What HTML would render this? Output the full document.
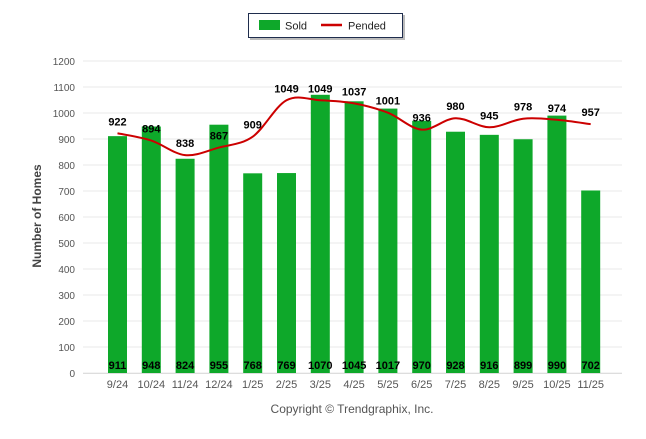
<!DOCTYPE html>
<html><head><meta charset="utf-8"><style>
body{margin:0;background:#fff;width:646px;height:434px;overflow:hidden;font-family:"Liberation Sans",sans-serif}
</style></head><body>
<svg id="c" width="646" height="434" xmlns="http://www.w3.org/2000/svg">
<g>
<rect x="248.5" y="13.5" width="154" height="24" fill="#fff" stroke="#1f2d4d" stroke-width="1"/>
<rect x="403" y="15" width="2" height="24" fill="#bbb"/>
<rect x="250" y="38" width="155" height="2" fill="#bbb"/>
<rect x="259" y="20" width="21" height="10" fill="#0ea82a"/>
<text x="285" y="29.5" font-size="11" fill="#222">Sold</text>
<line x1="321" y1="25" x2="342" y2="25" stroke="#cc0000" stroke-width="2.5"/>
<text x="348" y="29.5" font-size="11" fill="#222">Pended</text>
</g>
<text transform="translate(41,216) rotate(-90)" text-anchor="middle" font-size="12" font-weight="bold" fill="#444">Number of Homes</text>
<text x="352" y="413" text-anchor="middle" font-size="12" fill="#555">Copyright © Trendgraphix, Inc.</text>
<g id="grid"></g><g id="bars"></g><g id="line"></g><g id="labels"></g>
</svg>
<script>
const categories=["9/24","10/24","11/24","12/24","1/25","2/25","3/25","4/25","5/25","6/25","7/25","8/25","9/25","10/25","11/25"];
const sold=[911,948,824,955,768,769,1070,1045,1017,970,928,916,899,990,702];
const pended=[922,894,838,867,909,1049,1049,1037,1001,936,980,945,978,974,957];
const yTicks=[0,100,200,300,400,500,600,700,800,900,1000,1100,1200];
const NS="http://www.w3.org/2000/svg";
const x0=100.6,bw=33.8,yBase=373,yTop=61,yMax=1200;
const y=v=>yBase-(v/yMax)*(yBase-yTop);
const xc=i=>x0+bw*(i+0.5);
function mk(t,a,p){const e=document.createElementNS(NS,t);for(const k in a)e.setAttribute(k,a[k]);p.appendChild(e);return e;}
const G=document.getElementById('grid'),B=document.getElementById('bars'),L=document.getElementById('line'),T=document.getElementById('labels');
yTicks.forEach(v=>{
 const l=mk('line',{x1:83,x2:622,y1:y(v),y2:y(v),stroke:'#e8e8e8','stroke-width':1},G);
 
 
 const t=mk('text',{x:75,y:y(v)+4,'text-anchor':'end','font-size':10,fill:'#555'},G);t.textContent=v;
 
 
});
mk('line',{x1:83,x2:622,y1:yBase+0.5,y2:yBase+0.5,stroke:'#ddd'},G);
categories.forEach((c,i)=>{
 const t=mk('text',{x:xc(i),y:388,'text-anchor':'middle','font-size':11,fill:'#555'},G);t.textContent=c;
 
 
 const r=mk('rect',{x:xc(i)-9.5,y:y(sold[i]),width:19,height:yBase-y(sold[i]),fill:'#0ea82a'},B);
 
 
 const s=mk('text',{x:xc(i),y:369,'text-anchor':'middle','font-size':11,'font-weight':'bold',fill:'#000'},T);s.textContent=sold[i];
 
 
 const p=mk('text',{x:xc(i),y:y(pended[i])-8,'text-anchor':'middle','font-size':11,'font-weight':'bold',fill:'#000'},T);p.textContent=pended[i];
 
 
});
const pts=pended.map((v,i)=>[xc(i),y(v)]);
let d='M'+pts[0][0]+','+pts[0][1];
for(let i=0;i<pts.length-1;i++){
 const p0=pts[i-1]||pts[i],p1=pts[i],p2=pts[i+1],p3=pts[i+2]||p2;
 const c1=[p1[0]+(p2[0]-p0[0])/6,p1[1]+(p2[1]-p0[1])/6],c2=[p2[0]-(p3[0]-p1[0])/6,p2[1]-(p3[1]-p1[1])/6];
 d+=' C'+c1+' '+c2+' '+p2;
}
const ln=mk('path',{d:d,fill:'none',stroke:'#cc0000','stroke-width':2},L);


</script>
</body></html>
